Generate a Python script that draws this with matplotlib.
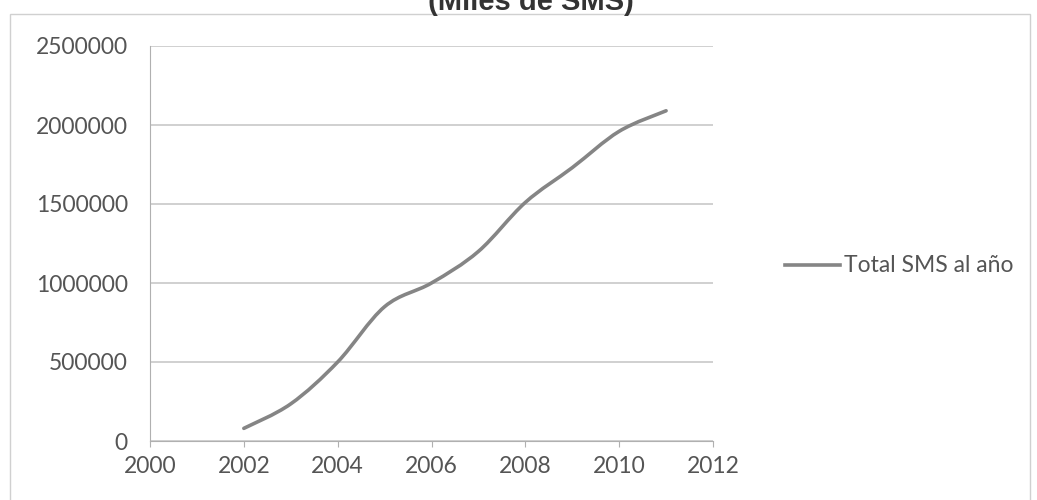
import matplotlib
matplotlib.use("Agg")
import matplotlib.pyplot as plt
from matplotlib.path import Path
from matplotlib.patches import PathPatch, Rectangle
from matplotlib.lines import Line2D
import numpy as np

years = [2002, 2003, 2004, 2005, 2006, 2007, 2008, 2009, 2010, 2011]
sms_total = [80000, 235000, 500000, 850000, 1000000, 1200000, 1510000, 1730000, 1960000, 2090000]
series_label = "Total SMS al año"
title = "(Miles de SMS)"

plt.rcParams['font.family'] = ['Lato', 'DejaVu Sans']

fig = plt.figure(figsize=(10.37, 5.0), dpi=100)
ax = fig.add_axes([150/1037, 1-441/500, (713-150)/1037, (441-46)/500])

# smooth curve (Catmull-Rom -> cubic Bezier) through the data points
x = np.array(years, float)
y = np.array(sms_total, float)
verts = [(x[0], y[0])]
codes = [Path.MOVETO]
n = len(x)
for i in range(n - 1):
    p0 = (x[i-1], y[i-1]) if i > 0 else (x[i], y[i])
    p1 = (x[i], y[i]); p2 = (x[i+1], y[i+1])
    p3 = (x[i+2], y[i+2]) if i + 2 < n else (x[i+1], y[i+1])
    c1 = (p1[0] + (p2[0]-p0[0])/6, p1[1] + (p2[1]-p0[1])/6)
    c2 = (p2[0] - (p3[0]-p1[0])/6, p2[1] - (p3[1]-p1[1])/6)
    verts += [c1, c2, p2]
    codes += [Path.CURVE4]*3
ax.add_patch(PathPatch(Path(verts, codes), fill=False, edgecolor='#858585', lw=2.6,
                       capstyle='round', joinstyle='round', zorder=3))

ax.set_xlim(2000, 2012)
ax.set_ylim(0, 2500000)
ax.set_xticks(range(2000, 2013, 2))
ax.set_yticks(range(0, 2500001, 500000))
ax.set_yticklabels([str(v) for v in range(0, 2500001, 500000)])
ax.grid(axis='y', color='#c8c8c8', lw=1.2)
ax.set_axisbelow(True)
for s in ['top', 'right']:
    ax.spines[s].set_visible(False)
ax.spines['left'].set_color('#b0b0b0')
ax.spines['bottom'].set_color('#b0b0b0')
ax.tick_params(axis='y', length=0, pad=16, labelsize=16.5, labelcolor='#555555')
ax.tick_params(axis='x', length=4, color='#b0b0b0', pad=7, labelsize=16.5, labelcolor='#555555')

# legend
fig.add_artist(Line2D([785/1037, 840/1037], [1-265/500, 1-265/500], color='#858585', lw=2.6))
fig.text(844/1037, 1-265/500, series_label, fontsize=16.5, color='#555555', va='center', ha='left')

# chart border
fig.add_artist(Rectangle((10/1037, -0.01), (1030-10)/1037, 1-14/500+0.01, transform=fig.transFigure,
                         fill=False, edgecolor='#d0d0d0', lw=1.0))

fig.text(531/1037, 1-10/500, title, fontsize=21, fontweight='bold', color='#333333',
         ha='center', va='baseline', family=['Liberation Sans'])

fig.savefig('out.png', dpi=100, facecolor='white')
